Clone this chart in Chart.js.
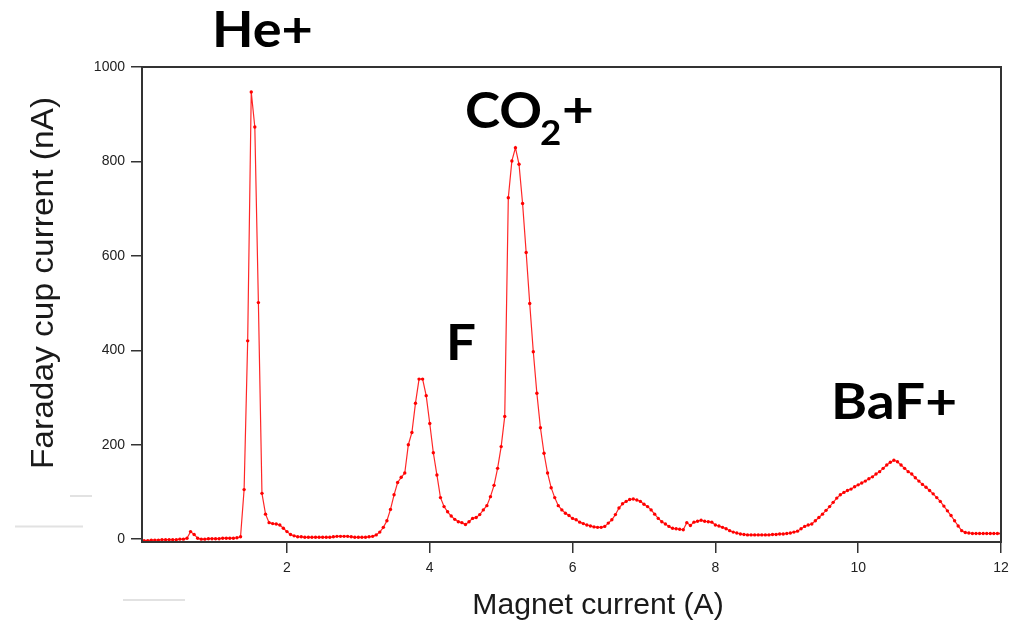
<!DOCTYPE html>
<html>

<head>
    <title>Magnet current scan</title>
    <script src="https://cdn.jsdelivr.net/npm/chart.js"></script>
    <style>
        body {
            margin: 0;
            background: white;
        }

        #scanChart {
            display: block;
        }
    </style>
</head>

<body>
    <canvas id="scanChart" width="1012" height="620"></canvas>

    <script>
        // Magnet current (A), one reading every 0.05 A
        const magnetCurrent = [
            0, 0.05, 0.1, 0.15, 0.2, 0.25, 0.3, 0.35, 0.4, 0.45, 0.5, 0.55, 0.6, 0.65, 0.7, 0.75, 0.8, 0.85, 0.9, 0.95,
            1, 1.05, 1.1, 1.15, 1.2, 1.25, 1.3, 1.35, 1.4, 1.45, 1.5, 1.55, 1.6, 1.65, 1.7, 1.75, 1.8, 1.85, 1.9, 1.95,
            2, 2.05, 2.1, 2.15, 2.2, 2.25, 2.3, 2.35, 2.4, 2.45, 2.5, 2.55, 2.6, 2.65, 2.7, 2.75, 2.8, 2.85, 2.9, 2.95,
            3, 3.05, 3.1, 3.15, 3.2, 3.25, 3.3, 3.35, 3.4, 3.45, 3.5, 3.55, 3.6, 3.65, 3.7, 3.75, 3.8, 3.85, 3.9, 3.95,
            4, 4.05, 4.1, 4.15, 4.2, 4.25, 4.3, 4.35, 4.4, 4.45, 4.5, 4.55, 4.6, 4.65, 4.7, 4.75, 4.8, 4.85, 4.9, 4.95,
            5, 5.05, 5.1, 5.15, 5.2, 5.25, 5.3, 5.35, 5.4, 5.45, 5.5, 5.55, 5.6, 5.65, 5.7, 5.75, 5.8, 5.85, 5.9, 5.95,
            6, 6.05, 6.1, 6.15, 6.2, 6.25, 6.3, 6.35, 6.4, 6.45, 6.5, 6.55, 6.6, 6.65, 6.7, 6.75, 6.8, 6.85, 6.9, 6.95,
            7, 7.05, 7.1, 7.15, 7.2, 7.25, 7.3, 7.35, 7.4, 7.45, 7.5, 7.55, 7.6, 7.65, 7.7, 7.75, 7.8, 7.85, 7.9, 7.95,
            8, 8.05, 8.1, 8.15, 8.2, 8.25, 8.3, 8.35, 8.4, 8.45, 8.5, 8.55, 8.6, 8.65, 8.7, 8.75, 8.8, 8.85, 8.9, 8.95,
            9, 9.05, 9.1, 9.15, 9.2, 9.25, 9.3, 9.35, 9.4, 9.45, 9.5, 9.55, 9.6, 9.65, 9.7, 9.75, 9.8, 9.85, 9.9, 9.95,
            10, 10.05, 10.1, 10.15, 10.2, 10.25, 10.3, 10.35, 10.4, 10.45, 10.5, 10.55, 10.6, 10.65, 10.7, 10.75, 10.8, 10.85, 10.9, 10.95,
            11, 11.05, 11.1, 11.15, 11.2, 11.25, 11.3, 11.35, 11.4, 11.45, 11.5, 11.55, 11.6, 11.65, 11.7, 11.75, 11.8, 11.85, 11.9, 11.95,
            12
        ];

        // Faraday cup current (nA) read at each magnet current
        const faradayCurrent = [
            -3, -3, -2, -2, -2, -1, -1, -1, -1, -1, 0, 0, 2, 16, 10, 2, 0, 0, 1, 1,
            1, 1, 2, 2, 2, 2, 3, 5, 105, 420, 947, 873, 501, 97, 53, 35, 33, 32, 30, 23,
            16, 10, 7, 5, 5, 4, 4, 4, 4, 4, 4, 4, 4, 5, 6, 6, 6, 6, 5, 4,
            4, 4, 4, 5, 6, 9, 15, 25, 39, 63, 94, 120, 131, 140, 200, 226, 288, 339, 339, 304,
            245, 183, 136, 88, 69, 58, 49, 42, 37, 35, 31, 37, 44, 46, 52, 62, 71, 90, 114, 150,
            196, 260, 723, 801, 829, 794, 711, 607, 499, 397, 309, 236, 182, 140, 109, 88, 71, 62, 55, 50,
            44, 41, 36, 33, 30, 28, 26, 25, 25, 27, 34, 41, 52, 66, 75, 80, 84, 85, 83, 80,
            74, 69, 62, 53, 44, 37, 32, 27, 23, 22, 21, 20, 35, 29, 36, 38, 40, 38, 37, 36,
            30, 28, 25, 22, 18, 15, 13, 11, 10, 9, 9, 9, 9, 9, 9, 9, 10, 10, 11, 11,
            12, 13, 15, 17, 22, 27, 30, 32, 39, 46, 53, 61, 69, 78, 87, 94, 99, 103, 106, 111,
            115, 119, 123, 128, 132, 138, 143, 150, 157, 163, 167, 164, 157, 150, 143, 138, 130, 123, 116, 110,
            103, 96, 88, 80, 70, 60, 50, 39, 28, 18, 14, 13, 12, 12, 12, 12, 12, 12, 12, 12,
            12
        ];

        // Tick labels
        const xTicks = [2, 4, 6, 8, 10, 12];
        const yTicks = [0, 200, 400, 600, 800, 1000];

        const axisColor = '#333333';
        const labelFont = '"Lato", "Open Sans", sans-serif';

        // draws text stretched sideways around its left edge
        function wideText(ctx, text, x, y, sx) {
            ctx.save();
            ctx.translate(x, y);
            ctx.scale(sx, 1);
            ctx.fillText(text, 0, 0);
            ctx.restore();
        }

        // Frame, axis titles and peak names
        const decorations = {
            id: 'decorations',
            afterDraw(chart) {
                const ctx = chart.ctx;
                const a = chart.chartArea;
                ctx.save();

                // faint grey marks left of the plot
                ctx.strokeStyle = '#e2e2e2';
                ctx.lineWidth = 2;
                ctx.beginPath();
                ctx.moveTo(70, 496); ctx.lineTo(92, 496);
                ctx.moveTo(15, 526.5); ctx.lineTo(83, 526.5);
                ctx.moveTo(123, 600); ctx.lineTo(185, 600);
                ctx.stroke();

                // box around the plot
                ctx.strokeStyle = axisColor;
                ctx.lineWidth = 2;
                ctx.strokeRect(a.left, a.top, a.right - a.left, a.bottom - a.top);

                // axis titles
                ctx.fillStyle = '#1a1a1a';
                ctx.textBaseline = 'alphabetic';
                ctx.textAlign = 'center';
                ctx.font = '29px "Liberation Sans", Arial, sans-serif';
                ctx.save();
                ctx.translate(598, 614);
                ctx.scale(1.04, 1);
                ctx.fillText('Magnet current (A)', 0, 0);
                ctx.restore();

                ctx.save();
                ctx.translate(53, 283);
                ctx.rotate(-Math.PI / 2);
                ctx.scale(1.08, 1);
                ctx.font = '31px "Liberation Sans", Arial, sans-serif';
                ctx.fillText('Faraday cup current (nA)', 0, 0);
                ctx.restore();

                // peak names
                ctx.fillStyle = '#000000';
                ctx.textAlign = 'left';
                ctx.font = 'bold 50px ' + labelFont;
                wideText(ctx, 'He+', 212, 47, 1.08);
                wideText(ctx, 'CO', 465, 128, 1.06);
                wideText(ctx, 'F', 446, 360, 1.06);
                wideText(ctx, 'BaF+', 831, 419, 1.1);
                ctx.font = 'bold 35px ' + labelFont;
                wideText(ctx, '2', 540, 145, 1.05);
                ctx.font = 'bold 50px ' + labelFont;
                wideText(ctx, '+', 562, 127, 1.1);

                ctx.restore();
            }
        };

        const ctx = document.getElementById('scanChart').getContext('2d');
        new Chart(ctx, {
            type: 'line',
            data: {
                datasets: [{
                    label: 'Faraday cup current',
                    data: magnetCurrent.map((x, i) => ({ x: x, y: faradayCurrent[i] })),
                    borderColor: 'rgba(255, 0, 0, 0.85)',
                    borderWidth: 1.2,
                    pointRadius: 1.7,
                    pointBackgroundColor: '#ff0000',
                    pointBorderWidth: 0,
                    tension: 0
                }]
            },
            options: {
                responsive: false,
                animation: false,
                devicePixelRatio: 1,
                layout: {
                    padding: { left: 0, top: 67, right: 11, bottom: 0 }
                },
                plugins: {
                    legend: { display: false },
                    tooltip: { enabled: false }
                },
                scales: {
                    x: {
                        type: 'linear',
                        min: -0.03,
                        max: 12,
                        afterBuildTicks: axis => { axis.ticks = xTicks.map(v => ({ value: v })); },
                        afterFit: scale => {
                            scale.height = 78;
                            scale.paddingLeft = 0;
                            scale.paddingRight = 0;
                        },
                        border: { display: true, color: axisColor, width: 2 },
                        grid: { drawOnChartArea: false, drawTicks: true, tickLength: 11, color: axisColor, lineWidth: 1.5 },
                        ticks: {
                            color: '#222222',
                            padding: 7,
                            maxRotation: 0,
                            callback: v => String(v),
                            font: { family: '"Liberation Sans", Arial, sans-serif', size: 14 }
                        }
                    },
                    y: {
                        min: -6,
                        max: 1000,
                        afterBuildTicks: axis => { axis.ticks = yTicks.map(v => ({ value: v })); },
                        afterFit: scale => {
                            scale.width = 142;
                            scale.paddingTop = 0;
                            scale.paddingBottom = 0;
                        },
                        border: { display: true, color: axisColor, width: 2 },
                        grid: { drawOnChartArea: false, drawTicks: true, tickLength: 11, color: axisColor, lineWidth: 1.5 },
                        ticks: {
                            color: '#222222',
                            padding: 6,
                            callback: v => String(v),
                            font: { family: '"Liberation Sans", Arial, sans-serif', size: 14 }
                        }
                    }
                }
            },
            plugins: [decorations]
        });
    </script>
</body>

</html>
